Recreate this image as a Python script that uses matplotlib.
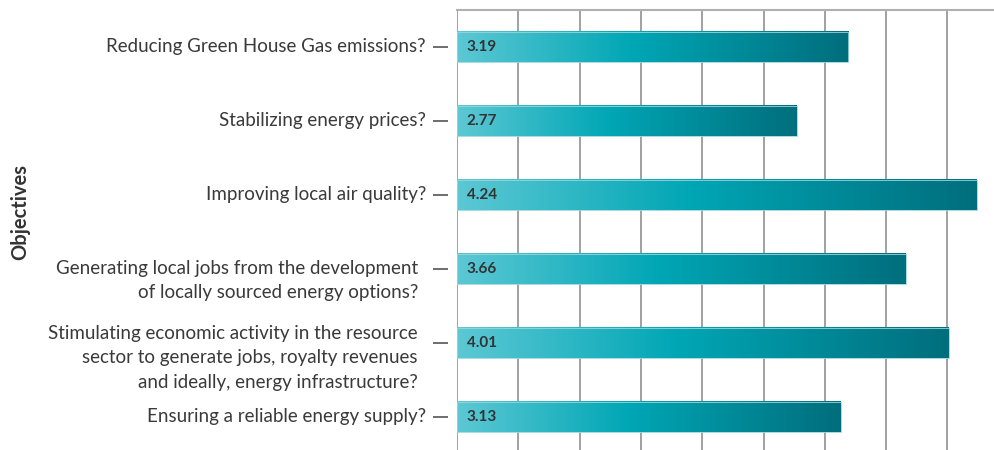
import numpy as np
import matplotlib
matplotlib.use('Agg')
from matplotlib import pyplot as plt
from matplotlib.colors import LinearSegmentedColormap
from matplotlib.transforms import blended_transform_factory, ScaledTranslation

plt.rcParams['font.family'] = ['Lato', 'DejaVu Sans']

# data
objectives = [
    'Reducing Green House Gas emissions?',
    'Stabilizing energy prices?',
    'Improving local air quality?',
    'Generating local jobs from the development\nof locally sourced energy options?',
    'Stimulating economic activity in the resource\nsector to generate jobs, royalty revenues\nand ideally, energy infrastructure?',
    'Ensuring a reliable energy supply?',
]
scores = [3.19, 2.77, 4.24, 3.66, 4.01, 3.13]

# per-label nudges in pixels (multi-line labels sit a bit lower/left)
label_dx = [0, 0, 0, -8, -8, 0]
label_dy = [0, 0, 0, -11.5, -15, 0]

teal = LinearSegmentedColormap.from_list(
    'teal', [(0, '#5cc8d4'), (0.45, '#00a6b5'), (1, '#006e7d')])
grad = np.linspace(0, 1, 256).reshape(1, -1)

fig = plt.figure(figsize=(9.95, 4.5), dpi=100)
ax = fig.add_axes([457 / 995, 0, 538 / 995, 440 / 450])

ypos = np.arange(len(scores))
bar_h = 0.41
for y, v in zip(ypos, scores):
    ax.imshow(grad, cmap=teal, aspect='auto', interpolation='bilinear',
              extent=(0, v, y + bar_h / 2, y - bar_h / 2), zorder=2)
    ax.add_patch(plt.Rectangle((0, y - bar_h / 2), v, bar_h, fill=False,
                               edgecolor='#9ad6dc', lw=0.6, zorder=3))
    ax.text(0.08, y, f'{v:.2f}', va='center', ha='left', fontsize=11,
            fontweight='bold', color='#333333', zorder=4)

ax.set_xlim(0, 538 / 122.6)
ax.set_ylim(len(scores) - 0.55, -0.5)

ax.set_xticks(np.arange(0, 4.01, 0.5))
ax.grid(axis='x', color='#888888', lw=1.1, zorder=0)
ax.tick_params(axis='x', length=0, labelbottom=False)

# dashes next to each category (spine offset / tick length in points)
ax.spines['left'].set_position(('outward', 6.5))
ax.spines['left'].set_visible(False)
ax.set_yticks(ypos)
ax.set_yticklabels([])
ax.tick_params(axis='y', length=10.8, width=1.2, color='#555555')

for s in ['right', 'bottom']:
    ax.spines[s].set_visible(False)
ax.spines['top'].set_color('#b0b0b0')
ax.spines['top'].set_linewidth(1.5)

trans = blended_transform_factory(ax.transAxes, ax.transData)
for y, lab, dx, dy in zip(ypos, objectives, label_dx, label_dy):
    off = ScaledTranslation((-31 + dx) / 100, dy / 100, fig.dpi_scale_trans)
    ax.text(0, y, lab, transform=trans + off, ha='right', va='center',
            ma='right', fontsize=13.5, color='#3a3a3a', linespacing=1.52)

fig.text(20 / 995, 1 - 212 / 450, 'Objectives', rotation=90, ha='center',
         va='center', fontsize=14.5, fontweight='bold', color='#333333')

fig.savefig('out.png', dpi=100)
